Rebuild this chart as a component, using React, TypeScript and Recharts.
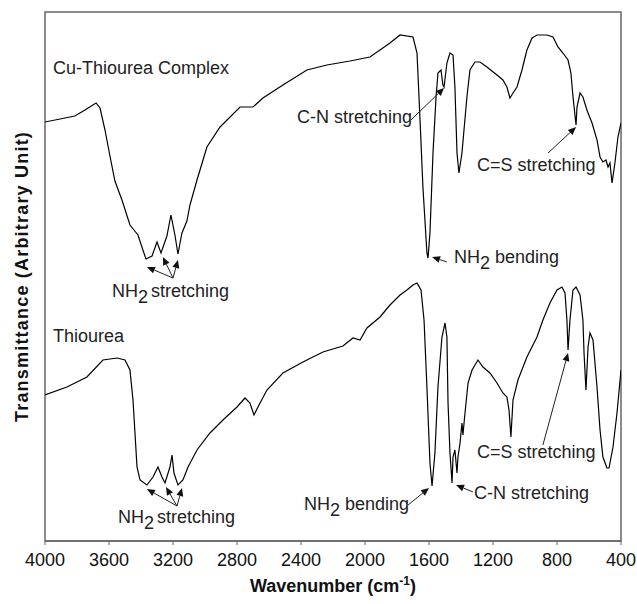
import React from "react";
import { LineChart, Line, XAxis, YAxis, ReferenceLine, ReferenceDot, ReferenceArea, Label } from "recharts";

// Wavenumber ticks (cm-1)
const wavenumberTicks = [4000, 3600, 3200, 2800, 2400, 2000, 1600, 1200, 800, 400];

// Cu-Thiourea Complex spectrum (transmittance, arbitrary unit)
const complexWavenumber = [4000,3906,3813,3750,3681,3656,3625,3594,3563,3519,3469,3419,3388,3369,3331,3300,3275,3238,3213,3188,3169,3144,3113,3094,3050,2988,2906,2781,2700,2638,2513,2363,2238,2094,1969,1844,1781,1700,1675,1656,1638,1613,1606,1594,1575,1556,1544,1525,1513,1506,1488,1469,1450,1438,1425,1413,1394,1363,1344,1313,1281,1238,1175,1138,1113,1094,1075,1050,1019,988,956,925,863,825,794,763,731,713,700,681,675,656,638,613,581,550,531,513,494,481,469,456,438,419,400];
const complexTransmittance = [419,422,425,431,438,433,411,385,360,341,316,306,291,282,285,299,288,305,326,306,287,308,320,336,361,394,414,434,434,443,456,471,476,480,484,498,506,504,488,421,354,288,283,308,388,444,468,471,456,454,478,488,486,454,388,368,388,444,471,479,479,474,466,461,454,443,448,454,471,491,503,506,506,504,494,488,481,468,444,416,434,448,444,431,418,401,384,379,381,374,378,358,378,404,418];

// Thiourea spectrum
const thioureaWavenumber = [4000,3863,3738,3638,3550,3500,3469,3450,3425,3406,3363,3325,3294,3269,3250,3219,3206,3194,3169,3138,3106,3050,2969,2888,2800,2750,2719,2694,2656,2613,2513,2388,2263,2138,2075,2031,1988,1906,1844,1781,1738,1700,1675,1650,1631,1613,1594,1581,1563,1544,1519,1500,1488,1481,1469,1456,1450,1438,1425,1419,1406,1394,1388,1375,1356,1331,1294,1263,1219,1175,1138,1113,1100,1088,1075,1044,988,925,888,844,800,769,750,738,731,719,700,681,656,638,631,619,606,594,575,550,531,513,488,475,450,425,400];
const thioureaTransmittance = [146,154,164,181,183,181,171,141,74,61,56,64,74,64,58,74,86,68,56,61,74,91,108,121,134,143,138,126,138,151,168,179,189,195,203,201,213,224,236,246,251,256,258,251,221,154,78,55,88,154,204,218,204,138,88,58,84,91,68,84,98,118,106,128,158,171,181,174,168,158,148,144,131,104,141,161,184,204,221,238,251,254,248,221,191,221,251,254,246,221,188,151,194,208,201,154,111,84,73,73,94,128,171];

// Annotation labels (anchored at wavenumber / transmittance)
const labelTexts = [
  { wn: 3950, t: 467, main: "Cu-Thiourea Complex" },
  { wn: 3950, t: 199, main: "Thiourea" },
  { wn: 3581, t: 244, main: "NH", sub: "2", rest: "stretching" },
  { wn: 3544, t: 18, main: "NH", sub: "2", rest: "stretching" },
  { wn: 2425, t: 418, main: "C-N stretching" },
  { wn: 1444, t: 278, main: "NH", sub: "2", rest: " bending" },
  { wn: 1300, t: 370, main: "C=S stretching" },
  { wn: 2381, t: 31, main: "NH", sub: "2", rest: " bending" },
  { wn: 1319, t: 42, main: "C-N stretching" },
  { wn: 1300, t: 83, main: "C=S stretching" },
];

// Annotation arrows: from (wn1,t1) to tip (wn2,t2)
const arrows = [
  [3200, 263, 3363, 274],
  [3200, 263, 3263, 284],
  [3200, 263, 3169, 281],
  [3175, 35, 3363, 52],
  [3175, 35, 3244, 54],
  [3175, 35, 3144, 53],
  [1713, 421, 1506, 453],
  [1488, 279, 1581, 284],
  [856, 388, 681, 414],
  [1731, 36, 1600, 53],
  [1325, 49, 1431, 56],
  [888, 96, 731, 188],
];

const complexData = complexWavenumber.map((wn, i) => ({ wn, t: complexTransmittance[i] }));
const thioureaData = thioureaWavenumber.map((wn, i) => ({ wn, t: thioureaTransmittance[i] }));

const FONT = "'Liberation Sans', Arial, sans-serif";
const FRAME = "#666666";

const ArrowShape = (p: any) => {
  const { x1, y1, x2, y2 } = p;
  if ([x1, y1, x2, y2].some((v) => typeof v !== "number" || isNaN(v))) return null;
  const ang = Math.atan2(y2 - y1, x2 - x1);
  const L = 8;
  const W = 3.5;
  const bx = x2 - L * Math.cos(ang);
  const by = y2 - L * Math.sin(ang);
  const pts = `${x2},${y2} ${bx + W * Math.sin(ang)},${by - W * Math.cos(ang)} ${bx - W * Math.sin(ang)},${by + W * Math.cos(ang)}`;
  return (
    <g>
      <line x1={x1} y1={y1} x2={bx} y2={by} stroke="#222" strokeWidth={1} />
      <polygon points={pts} fill="#111" />
    </g>
  );
};

const makeTextShape = (lab: any) => (p: any) => (
  <text x={p.cx} y={p.cy} fontFamily={FONT} fontSize={18} fill="#222">
    {lab.main}
    {lab.sub ? (
      <>
        <tspan dy={6}>{lab.sub}</tspan>
        <tspan dy={-6} dx={lab.rest.startsWith(" ") ? 0 : 3}>{lab.rest}</tspan>
      </>
    ) : null}
  </text>
);

export default function App() {
  return (
    <div style={{ position: "absolute", left: 0, top: 0, width: 637, height: 604 }}>
      <LineChart
        width={637}
        height={604}
        margin={{ top: 12, right: 16, left: 45, bottom: 0 }}
      >
        <XAxis
          type="number"
          dataKey="wn"
          domain={[400, 4000]}
          reversed
          ticks={wavenumberTicks}
          allowDataOverflow
          height={63}
          tickSize={4}
          tickMargin={8}
          stroke={FRAME}
          axisLine={{ stroke: FRAME, strokeWidth: 1.5 }}
          tickLine={{ stroke: FRAME }}
          tick={{ fontSize: 18, fill: "#111", fontFamily: FONT }}
        >
          <Label
            content={(props: any) => {
              const vb = props.viewBox || { x: 45, y: 541, width: 576 };
              const ycx = vb.x - 23;
              const ycy = vb.y - 264.5;
              return (
                <g>
                  <text
                    x={vb.x + vb.width / 2}
                    y={vb.y + 51}
                    textAnchor="middle"
                    fontFamily={FONT}
                    fontSize={18}
                    fontWeight="bold"
                    fill="#111"
                  >
                    Wavenumber (cm
                    <tspan dy={-7} fontSize={12}>-1</tspan>
                    <tspan dy={7}>)</tspan>
                  </text>
                  <text
                    x={ycx}
                    y={ycy}
                    transform={`rotate(-90 ${ycx} ${ycy})`}
                    textAnchor="middle"
                    dominantBaseline="central"
                    fontFamily={FONT}
                    fontSize={18}
                    fontWeight="bold"
                    letterSpacing={1.2}
                    fill="#111"
                  >
                    Transmittance (Arbitrary Unit)
                  </text>
                </g>
              );
            }}
          />
        </XAxis>
        <YAxis
          type="number"
          domain={[0, 529]}
          width={0}
          tick={false}
          tickLine={false}
          axisLine={{ stroke: FRAME, strokeWidth: 1.5 }}
        />
        <YAxis
          yAxisId="frameRight"
          orientation="right"
          type="number"
          domain={[0, 529]}
          width={0}
          tick={false}
          tickLine={false}
          axisLine={{ stroke: FRAME, strokeWidth: 1.5 }}
        />
        <ReferenceArea
          x1={4000}
          x2={400}
          y1={0}
          y2={529}
          fill="none"
          fillOpacity={0}
          stroke={FRAME}
          strokeWidth={1.5}
          ifOverflow="visible"
        />
        <Line
          data={complexData}
          dataKey="t"
          type="linear"
          stroke="#000"
          strokeWidth={1.2}
          dot={false}
          isAnimationActive={false}
        />
        <Line
          data={thioureaData}
          dataKey="t"
          type="linear"
          stroke="#000"
          strokeWidth={1.2}
          dot={false}
          isAnimationActive={false}
        />
        {arrows.map((a, i) => (
          <ReferenceLine
            key={"a" + i}
            segment={[
              { x: a[0], y: a[1] },
              { x: a[2], y: a[3] },
            ]}
            stroke="#222"
            shape={ArrowShape}
          />
        ))}
        {labelTexts.map((lab, i) => (
          <ReferenceDot
            key={"l" + i}
            x={lab.wn}
            y={lab.t}
            r={1}
            shape={makeTextShape(lab)}
          />
        ))}
      </LineChart>
    </div>
  );
}
